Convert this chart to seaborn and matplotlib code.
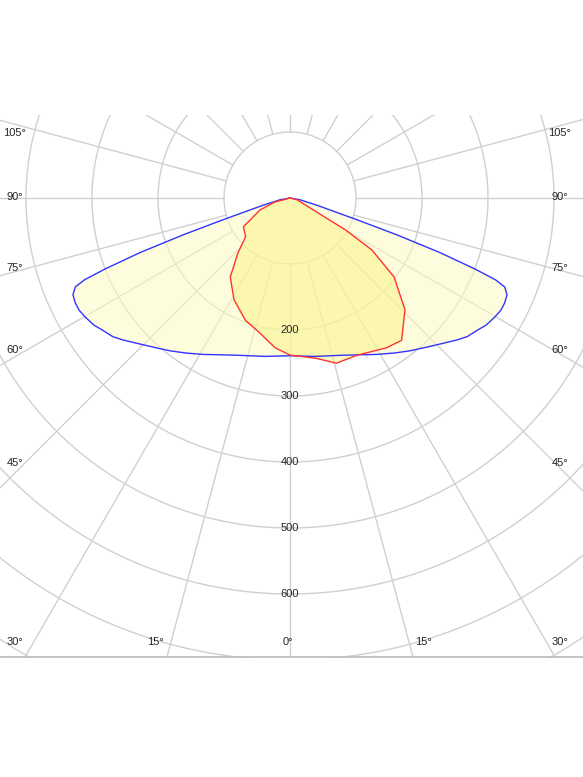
import numpy as np
import pandas as pd
import matplotlib
matplotlib.use("Agg")
import matplotlib.pyplot as plt
import seaborn as sns

# C0-180 plane (symmetric), angle from nadir (deg) -> intensity (cd)
c0_angles = [-90, -80, -75, -72, -71, -70, -69, -68.3, -67.5, -66, -64, -62, -59.9, -57, -55, -52, -49.6, -46, -42, -38, -33.9, -29, -25, -18.3, -9, 0,
             9, 18.3, 25, 29, 33.9, 38, 42, 46, 49.6, 52, 55, 57, 59.9, 62, 64, 66, 67.5, 68.3, 69, 70, 71, 72, 75, 80, 90]
c0_values = [0, 15, 42, 107, 170, 242, 300, 335, 352, 360, 362, 362, 359, 354, 348, 341, 332, 318, 305, 294, 283, 271, 262, 251, 243, 239,
             243, 251, 262, 271, 283, 294, 305, 318, 332, 341, 348, 354, 359, 362, 362, 360, 352, 335, 300, 242, 170, 107, 42, 15, 0]
# C90-270 plane (asymmetric)
c90_angles = [-90, -75, -68.2, -58.3, -49.0, -43.4, -37.1, -28.8, -20.1, -12.4, -5.7, 0,
              9.2, 15.7, 23.1, 32.8, 38.1, 45.8, 52.8, 57.6, 60.1, 61.4, 76, 90]
c90_values = [0, 25, 49, 83, 89, 115, 150, 176, 197, 210, 228, 238,
              246, 260, 259, 270, 274, 243, 198, 147, 97, 57, 11, 0]
ring_values = [100, 200, 300, 400, 500, 600, 700, 800, 900]
ring_labels = ["200", "300", "400", "500", "600"]

def to_xy(ang, val):
    a = np.deg2rad(np.asarray(ang, float))
    v = np.asarray(val, float)
    return v * np.sin(a), v * np.cos(a)

sns.set_style("white")
plt.rcParams['font.family'] = ['Liberation Sans', 'DejaVu Sans']

fig = plt.figure(figsize=(5.83, 7.77), dpi=100)
ax = fig.add_axes([0, (777 - 658) / 777, 1, (658 - 115) / 777])
s = 0.66  # px per cd
ax.set_xlim(-290 / s, 293 / s)
ax.set_ylim((658 - 198) / s, (115 - 198) / s)
ax.set_aspect('equal')
for sp in ax.spines.values():
    sp.set_visible(False)
ax.axhline((657 - 198) / s, color='#bbbbbb', lw=1.2)
ax.set_xticks([]); ax.set_yticks([])

# grid
t = np.linspace(0, 2 * np.pi, 400)
for r in ring_values:
    ax.plot(r * np.sin(t), r * np.cos(t), color='#d0d0d0', lw=1, zorder=1)
for a in range(0, 360, 15):
    ar = np.deg2rad(a)
    ax.plot([100 * np.sin(ar), 1200 * np.sin(ar)], [100 * np.cos(ar), 1200 * np.cos(ar)],
            color='#d0d0d0', lw=1, zorder=1)

bx, by = to_xy(c0_angles, c0_values)
rx, ry = to_xy(c90_angles, c90_values)
ax.fill(bx, by, color='#fdfbc0', alpha=0.55, lw=0, zorder=2)
ax.fill(rx, ry, color='#fbf37a', alpha=0.45, lw=0, zorder=2)
sns.lineplot(x=bx, y=by, sort=False, estimator=None, color='#3333ff', lw=1, ax=ax, zorder=3)
sns.lineplot(x=rx, y=ry, sort=False, estimator=None, color='#ff3333', lw=1, ax=ax, zorder=3)

for lab in ring_labels:
    ax.text(0, float(lab), lab, ha='center', va='center', fontsize=8, zorder=4)

def px(xp, yp):
    return (xp - 290) / s, (yp - 198) / s
side = [("105°", 133), ("90°", 197), ("75°", 268), ("60°", 350), ("45°", 463), ("30°", 642)]
for lab, yp in side:
    ax.text(*px(15, yp), lab, ha='center', va='center', fontsize=8, zorder=4)
    ax.text(*px(560, yp), lab, ha='center', va='center', fontsize=8, zorder=4)
for lab, xp in [("15°", 155), ("0°", 288), ("15°", 423)]:
    ax.text(*px(xp, 642), lab, ha='center', va='center', fontsize=8, zorder=4)

fig.savefig("out.png", dpi=100)
